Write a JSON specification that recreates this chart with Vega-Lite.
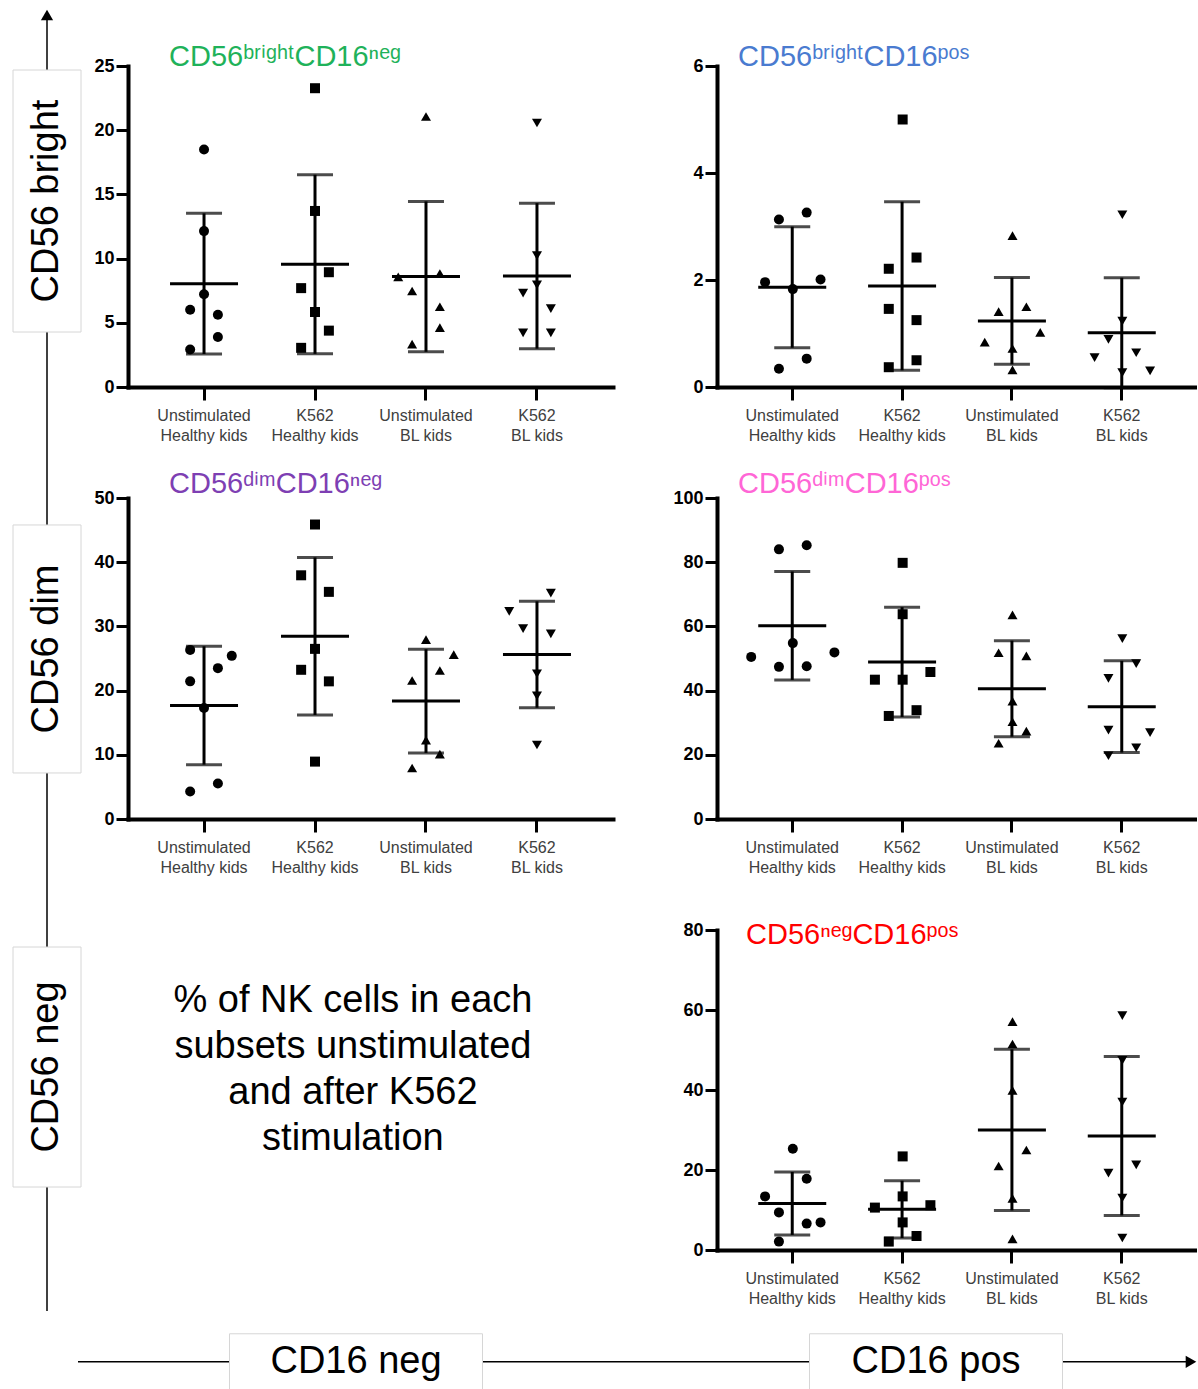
{
  "$schema": "https://vega.github.io/schema/vega-lite/v6.json",
  "padding": {"left": 12, "top": 9, "right": 0, "bottom": 0},
  "background": "white",
  "config": {
    "view": {"stroke": null},
    "font": "Liberation Sans",
    "axisY": {"domainColor": "black", "domainWidth": 4, "domainCap": "square", "tickColor": "black", "tickWidth": 3, "tickSize": 12, "labelFontSize": 18, "labelFontWeight": "bold", "labelColor": "black", "labelPadding": 2, "grid": false, "labelFont": "Liberation Sans", "format": "d"},
    "axisX": {"domainColor": "black", "domainWidth": 4, "domainCap": "square", "tickColor": "black", "tickWidth": 3, "tickSize": 13, "labelFontSize": 16, "labelColor": "#404040", "labelPadding": 7, "labelAngle": 0, "labelLineHeight": 20, "labelBaseline": "top", "grid": false, "labelFont": "Liberation Sans",
      "labelExpr": "[slice(datum.label, 0, indexof(datum.label, ' ')), slice(datum.label, indexof(datum.label, ' ') + 1)]"}
  },
  "datasets": {
    "nk": [
      {"p": "p1", "group": "Unstimulated Healthy kids", "slot": 0, "v": 18.49},
      {"p": "p1", "group": "Unstimulated Healthy kids", "slot": 0, "v": 12.14},
      {"p": "p1", "group": "Unstimulated Healthy kids", "slot": 0, "v": 7.23},
      {"p": "p1", "group": "Unstimulated Healthy kids", "slot": -1, "v": 6.02},
      {"p": "p1", "group": "Unstimulated Healthy kids", "slot": 1, "v": 5.63},
      {"p": "p1", "group": "Unstimulated Healthy kids", "slot": 1, "v": 3.9},
      {"p": "p1", "group": "Unstimulated Healthy kids", "slot": -1, "v": 2.92},
      {"p": "p1", "group": "K562 Healthy kids", "slot": 0, "v": 23.27},
      {"p": "p1", "group": "K562 Healthy kids", "slot": 0, "v": 13.71},
      {"p": "p1", "group": "K562 Healthy kids", "slot": 1, "v": 8.94},
      {"p": "p1", "group": "K562 Healthy kids", "slot": -1, "v": 7.7},
      {"p": "p1", "group": "K562 Healthy kids", "slot": 0, "v": 5.84},
      {"p": "p1", "group": "K562 Healthy kids", "slot": 1, "v": 4.39},
      {"p": "p1", "group": "K562 Healthy kids", "slot": -1, "v": 3.05},
      {"p": "p1", "group": "Unstimulated BL kids", "slot": 0, "v": 21.07},
      {"p": "p1", "group": "Unstimulated BL kids", "slot": -2, "v": 8.58},
      {"p": "p1", "group": "Unstimulated BL kids", "slot": 1, "v": 8.84},
      {"p": "p1", "group": "Unstimulated BL kids", "slot": -1, "v": 7.48},
      {"p": "p1", "group": "Unstimulated BL kids", "slot": 1, "v": 6.25},
      {"p": "p1", "group": "Unstimulated BL kids", "slot": 1, "v": 4.63},
      {"p": "p1", "group": "Unstimulated BL kids", "slot": -1, "v": 3.34},
      {"p": "p1", "group": "K562 BL kids", "slot": 0, "v": 20.56},
      {"p": "p1", "group": "K562 BL kids", "slot": 0, "v": 10.23},
      {"p": "p1", "group": "K562 BL kids", "slot": 0, "v": 7.95},
      {"p": "p1", "group": "K562 BL kids", "slot": -1, "v": 7.31},
      {"p": "p1", "group": "K562 BL kids", "slot": 1, "v": 6.1},
      {"p": "p1", "group": "K562 BL kids", "slot": -1, "v": 4.21},
      {"p": "p1", "group": "K562 BL kids", "slot": 1, "v": 4.21},

      {"p": "p2", "group": "Unstimulated Healthy kids", "slot": 1, "v": 3.26},
      {"p": "p2", "group": "Unstimulated Healthy kids", "slot": -1, "v": 3.13},
      {"p": "p2", "group": "Unstimulated Healthy kids", "slot": -2, "v": 1.96},
      {"p": "p2", "group": "Unstimulated Healthy kids", "slot": 2, "v": 2.01},
      {"p": "p2", "group": "Unstimulated Healthy kids", "slot": 0, "v": 1.83},
      {"p": "p2", "group": "Unstimulated Healthy kids", "slot": 1, "v": 0.53},
      {"p": "p2", "group": "Unstimulated Healthy kids", "slot": -1, "v": 0.34},
      {"p": "p2", "group": "K562 Healthy kids", "slot": 0, "v": 5.0},
      {"p": "p2", "group": "K562 Healthy kids", "slot": 1, "v": 2.42},
      {"p": "p2", "group": "K562 Healthy kids", "slot": -1, "v": 2.21},
      {"p": "p2", "group": "K562 Healthy kids", "slot": -1, "v": 1.46},
      {"p": "p2", "group": "K562 Healthy kids", "slot": 1, "v": 1.25},
      {"p": "p2", "group": "K562 Healthy kids", "slot": 1, "v": 0.5},
      {"p": "p2", "group": "K562 Healthy kids", "slot": -1, "v": 0.37},
      {"p": "p2", "group": "Unstimulated BL kids", "slot": 0, "v": 2.83},
      {"p": "p2", "group": "Unstimulated BL kids", "slot": -1, "v": 1.41},
      {"p": "p2", "group": "Unstimulated BL kids", "slot": 1, "v": 1.5},
      {"p": "p2", "group": "Unstimulated BL kids", "slot": 2, "v": 1.02},
      {"p": "p2", "group": "Unstimulated BL kids", "slot": -2, "v": 0.84},
      {"p": "p2", "group": "Unstimulated BL kids", "slot": 0, "v": 0.72},
      {"p": "p2", "group": "Unstimulated BL kids", "slot": 0, "v": 0.32},
      {"p": "p2", "group": "K562 BL kids", "slot": 0, "v": 3.22},
      {"p": "p2", "group": "K562 BL kids", "slot": 0, "v": 1.23},
      {"p": "p2", "group": "K562 BL kids", "slot": -1, "v": 0.89},
      {"p": "p2", "group": "K562 BL kids", "slot": 1, "v": 0.64},
      {"p": "p2", "group": "K562 BL kids", "slot": -2, "v": 0.55},
      {"p": "p2", "group": "K562 BL kids", "slot": 0, "v": 0.27},
      {"p": "p2", "group": "K562 BL kids", "slot": 2, "v": 0.3},

      {"p": "p3", "group": "Unstimulated Healthy kids", "slot": -1, "v": 26.34},
      {"p": "p3", "group": "Unstimulated Healthy kids", "slot": 2, "v": 25.41},
      {"p": "p3", "group": "Unstimulated Healthy kids", "slot": 1, "v": 23.5},
      {"p": "p3", "group": "Unstimulated Healthy kids", "slot": -1, "v": 21.44},
      {"p": "p3", "group": "Unstimulated Healthy kids", "slot": 0, "v": 17.3},
      {"p": "p3", "group": "Unstimulated Healthy kids", "slot": 1, "v": 5.53},
      {"p": "p3", "group": "Unstimulated Healthy kids", "slot": -1, "v": 4.29},
      {"p": "p3", "group": "K562 Healthy kids", "slot": 0, "v": 45.87},
      {"p": "p3", "group": "K562 Healthy kids", "slot": -1, "v": 37.96},
      {"p": "p3", "group": "K562 Healthy kids", "slot": 1, "v": 35.38},
      {"p": "p3", "group": "K562 Healthy kids", "slot": 0, "v": 26.5},
      {"p": "p3", "group": "K562 Healthy kids", "slot": -1, "v": 23.24},
      {"p": "p3", "group": "K562 Healthy kids", "slot": 1, "v": 21.44},
      {"p": "p3", "group": "K562 Healthy kids", "slot": 0, "v": 8.94},
      {"p": "p3", "group": "Unstimulated BL kids", "slot": 0, "v": 27.93},
      {"p": "p3", "group": "Unstimulated BL kids", "slot": 2, "v": 25.61},
      {"p": "p3", "group": "Unstimulated BL kids", "slot": 1, "v": 23.13},
      {"p": "p3", "group": "Unstimulated BL kids", "slot": -1, "v": 21.58},
      {"p": "p3", "group": "Unstimulated BL kids", "slot": 0, "v": 12.28},
      {"p": "p3", "group": "Unstimulated BL kids", "slot": 1, "v": 10.11},
      {"p": "p3", "group": "Unstimulated BL kids", "slot": -1, "v": 7.94},
      {"p": "p3", "group": "K562 BL kids", "slot": 1, "v": 35.18},
      {"p": "p3", "group": "K562 BL kids", "slot": -2, "v": 32.34},
      {"p": "p3", "group": "K562 BL kids", "slot": -1, "v": 29.66},
      {"p": "p3", "group": "K562 BL kids", "slot": 1, "v": 28.83},
      {"p": "p3", "group": "K562 BL kids", "slot": 0, "v": 22.63},
      {"p": "p3", "group": "K562 BL kids", "slot": 0, "v": 19.17},
      {"p": "p3", "group": "K562 BL kids", "slot": 0, "v": 11.53},

      {"p": "p4", "group": "Unstimulated Healthy kids", "slot": 1, "v": 85.3},
      {"p": "p4", "group": "Unstimulated Healthy kids", "slot": -1, "v": 84.0},
      {"p": "p4", "group": "Unstimulated Healthy kids", "slot": 0, "v": 54.8},
      {"p": "p4", "group": "Unstimulated Healthy kids", "slot": 3, "v": 51.9},
      {"p": "p4", "group": "Unstimulated Healthy kids", "slot": -3, "v": 50.5},
      {"p": "p4", "group": "Unstimulated Healthy kids", "slot": -1, "v": 47.4},
      {"p": "p4", "group": "Unstimulated Healthy kids", "slot": 1, "v": 47.6},
      {"p": "p4", "group": "K562 Healthy kids", "slot": 0, "v": 79.8},
      {"p": "p4", "group": "K562 Healthy kids", "slot": 0, "v": 63.8},
      {"p": "p4", "group": "K562 Healthy kids", "slot": 2, "v": 45.8},
      {"p": "p4", "group": "K562 Healthy kids", "slot": -2, "v": 43.4},
      {"p": "p4", "group": "K562 Healthy kids", "slot": 0, "v": 43.4},
      {"p": "p4", "group": "K562 Healthy kids", "slot": 1, "v": 33.9},
      {"p": "p4", "group": "K562 Healthy kids", "slot": -1, "v": 32.1},
      {"p": "p4", "group": "Unstimulated BL kids", "slot": 0, "v": 63.6},
      {"p": "p4", "group": "Unstimulated BL kids", "slot": -1, "v": 51.8},
      {"p": "p4", "group": "Unstimulated BL kids", "slot": 1, "v": 50.8},
      {"p": "p4", "group": "Unstimulated BL kids", "slot": 0, "v": 36.7},
      {"p": "p4", "group": "Unstimulated BL kids", "slot": 0, "v": 30.3},
      {"p": "p4", "group": "Unstimulated BL kids", "slot": 1, "v": 27.4},
      {"p": "p4", "group": "Unstimulated BL kids", "slot": -1, "v": 23.6},
      {"p": "p4", "group": "K562 BL kids", "slot": 0, "v": 56.2},
      {"p": "p4", "group": "K562 BL kids", "slot": 1, "v": 48.4},
      {"p": "p4", "group": "K562 BL kids", "slot": -1, "v": 43.8},
      {"p": "p4", "group": "K562 BL kids", "slot": -1, "v": 27.7},
      {"p": "p4", "group": "K562 BL kids", "slot": 2, "v": 26.9},
      {"p": "p4", "group": "K562 BL kids", "slot": 1, "v": 22.2},
      {"p": "p4", "group": "K562 BL kids", "slot": -1, "v": 19.7},

      {"p": "p5", "group": "Unstimulated Healthy kids", "slot": 0, "v": 25.3},
      {"p": "p5", "group": "Unstimulated Healthy kids", "slot": 1, "v": 17.8},
      {"p": "p5", "group": "Unstimulated Healthy kids", "slot": -2, "v": 13.4},
      {"p": "p5", "group": "Unstimulated Healthy kids", "slot": -1, "v": 9.4},
      {"p": "p5", "group": "Unstimulated Healthy kids", "slot": 2, "v": 6.9},
      {"p": "p5", "group": "Unstimulated Healthy kids", "slot": 1, "v": 6.6},
      {"p": "p5", "group": "Unstimulated Healthy kids", "slot": -1, "v": 2.1},
      {"p": "p5", "group": "K562 Healthy kids", "slot": 0, "v": 23.4},
      {"p": "p5", "group": "K562 Healthy kids", "slot": 0, "v": 13.4},
      {"p": "p5", "group": "K562 Healthy kids", "slot": -2, "v": 10.6},
      {"p": "p5", "group": "K562 Healthy kids", "slot": 2, "v": 11.2},
      {"p": "p5", "group": "K562 Healthy kids", "slot": 0, "v": 6.9},
      {"p": "p5", "group": "K562 Healthy kids", "slot": 1, "v": 3.5},
      {"p": "p5", "group": "K562 Healthy kids", "slot": -1, "v": 2.1},
      {"p": "p5", "group": "Unstimulated BL kids", "slot": 0, "v": 57.1},
      {"p": "p5", "group": "Unstimulated BL kids", "slot": 0, "v": 51.5},
      {"p": "p5", "group": "Unstimulated BL kids", "slot": 0, "v": 39.9},
      {"p": "p5", "group": "Unstimulated BL kids", "slot": 1, "v": 25.0},
      {"p": "p5", "group": "Unstimulated BL kids", "slot": -1, "v": 21.0},
      {"p": "p5", "group": "Unstimulated BL kids", "slot": 0, "v": 12.9},
      {"p": "p5", "group": "Unstimulated BL kids", "slot": 0, "v": 2.8},
      {"p": "p5", "group": "K562 BL kids", "slot": 0, "v": 58.6},
      {"p": "p5", "group": "K562 BL kids", "slot": 0, "v": 47.4},
      {"p": "p5", "group": "K562 BL kids", "slot": 0, "v": 37.0},
      {"p": "p5", "group": "K562 BL kids", "slot": 1, "v": 21.3},
      {"p": "p5", "group": "K562 BL kids", "slot": -1, "v": 19.2},
      {"p": "p5", "group": "K562 BL kids", "slot": 0, "v": 13.0},
      {"p": "p5", "group": "K562 BL kids", "slot": 0, "v": 3.0}
    ]
  },
  "spacing": 0,
  "vconcat": [
    {
      "bounds": "flush",
      "columns": 3,
      "align": {"row": "each", "column": "each"},
      "spacing": {"row": 0, "column": 47},
      "concat": [
        {
          "width": 68, "height": 51,
          "data": {"values": [{"e": "top"}]},
          "encoding": {"x": {"datum": "c", "type": "nominal", "scale": {"type": "point"}, "axis": null}},
          "layer": [
            {"mark": {"type": "rule", "color": "black", "strokeWidth": 1.5}, "encoding": {}},
            {"mark": {"type": "point", "shape": "triangle-up", "filled": true, "color": "black", "opacity": 1, "size": 150},
             "encoding": {"y": {"field": "e", "type": "nominal", "scale": {"type": "point", "domain": ["top", "bottom"], "padding": 0}, "axis": null}}}
          ]
        },
        {"width": 1, "height": 1, "data": {"values": [{}]}, "mark": {"type": "point", "opacity": 0}, "encoding": {}},
        {"width": 1, "height": 1, "data": {"values": [{}]}, "mark": {"type": "point", "opacity": 0}, "encoding": {}},

        {
          "width": 68, "height": 432,
          "data": {"values": [{"lab": "CD56 bright"}]},
          "encoding": {
            "x": {"datum": "c", "type": "nominal", "scale": {"type": "point"}, "axis": null},
            "y": {"field": "lab", "type": "nominal", "scale": {"type": "point", "align": 0.3125}, "axis": null}
          },
          "layer": [
            {"mark": {"type": "rule", "color": "black", "strokeWidth": 1.5}, "encoding": {"y": null}},
            {"mark": {"type": "rect", "width": 68, "height": 262, "fill": "white", "stroke": "#d6d6d6", "strokeWidth": 1}},
            {"mark": {"type": "text", "angle": 270, "fontSize": 38, "font": "Liberation Sans", "color": "black", "align": "center", "baseline": "middle"}, "encoding": {"text": {"field": "lab"}}}
          ]
        },
        {
          "width": 542, "height": 321,
          "title": {"text": "CD56ᵇʳⁱᵍʰᵗCD16ⁿᵉᵍ", "color": "#1fb25a", "anchor": "start", "frame": "group", "dx": 41, "fontSize": 29, "fontWeight": "normal", "font": "Liberation Sans", "baseline": "alphabetic", "offset": -38},
          "data": {"name": "nk"},
          "transform": [{"filter": "datum.p === 'p1'"}],
          "encoding": {"x": {"field": "group", "type": "nominal", "title": null, "scale": {"domain": ["Unstimulated Healthy kids", "K562 Healthy kids", "Unstimulated BL kids", "K562 BL kids"], "range": [0, 485], "paddingInner": 0, "paddingOuter": 0.185}}},
          "layer": [
            {"mark": {"type": "errorbar", "extent": "stdev", "color": "black", "ticks": {"size": 36, "thickness": 3, "color": "black"}, "rule": {"strokeWidth": 3, "color": "black"}},
             "encoding": {"y": {"field": "v", "type": "quantitative", "title": null, "scale": {"domain": [0, 25], "nice": false}, "axis": {"values": [0, 5, 10, 15, 20, 25]}}}},
            {"mark": {"type": "tick", "size": 68, "thickness": 3, "color": "black"},
             "encoding": {"y": {"aggregate": "mean", "field": "v", "type": "quantitative", "title": null}}},
            {"mark": {"type": "point", "filled": true, "color": "black", "opacity": 1},
             "encoding": {"y": {"field": "v", "type": "quantitative", "title": null},
               "xOffset": {"field": "slot", "type": "ordinal", "scale": {"type": "point", "domain": [-3, -2, -1, 0, 1, 2, 3], "padding": 2.95}},
               "size": {"field": "group", "type": "nominal", "legend": null, "scale": {"domain": ["Unstimulated Healthy kids", "K562 Healthy kids", "Unstimulated BL kids", "K562 BL kids"], "range": [100, 100, 160, 160]}},
               "shape": {"field": "group", "type": "nominal", "legend": null, "scale": {"domain": ["Unstimulated Healthy kids", "K562 Healthy kids", "Unstimulated BL kids", "K562 BL kids"], "range": ["circle", "square", "triangle-up", "triangle-down"]}}}}
          ]
        },
        {
          "width": 480, "height": 321,
          "title": {"text": "CD56ᵇʳⁱᵍʰᵗCD16ᵖᵒˢ", "color": "#4a7bd0", "anchor": "start", "frame": "group", "dx": 21, "fontSize": 29, "fontWeight": "normal", "font": "Liberation Sans", "baseline": "alphabetic", "offset": -38},
          "data": {"name": "nk"},
          "transform": [{"filter": "datum.p === 'p2'"}],
          "encoding": {"x": {"field": "group", "type": "nominal", "title": null, "scale": {"domain": ["Unstimulated Healthy kids", "K562 Healthy kids", "Unstimulated BL kids", "K562 BL kids"], "paddingInner": 0, "paddingOuter": 0.185}}},
          "layer": [
            {"mark": {"type": "errorbar", "extent": "stdev", "color": "black", "ticks": {"size": 36, "thickness": 3, "color": "black"}, "rule": {"strokeWidth": 3, "color": "black"}},
             "encoding": {"y": {"field": "v", "type": "quantitative", "title": null, "scale": {"domain": [0, 6], "nice": false}, "axis": {"values": [0, 2, 4, 6]}}}},
            {"mark": {"type": "tick", "size": 68, "thickness": 3, "color": "black"},
             "encoding": {"y": {"aggregate": "mean", "field": "v", "type": "quantitative", "title": null}}},
            {"mark": {"type": "point", "filled": true, "color": "black", "opacity": 1},
             "encoding": {"y": {"field": "v", "type": "quantitative", "title": null},
               "xOffset": {"field": "slot", "type": "ordinal", "scale": {"type": "point", "domain": [-3, -2, -1, 0, 1, 2, 3], "padding": 2.95}},
               "size": {"field": "group", "type": "nominal", "legend": null, "scale": {"domain": ["Unstimulated Healthy kids", "K562 Healthy kids", "Unstimulated BL kids", "K562 BL kids"], "range": [100, 100, 160, 160]}},
               "shape": {"field": "group", "type": "nominal", "legend": null, "scale": {"domain": ["Unstimulated Healthy kids", "K562 Healthy kids", "Unstimulated BL kids", "K562 BL kids"], "range": ["circle", "square", "triangle-up", "triangle-down"]}}}}
          ]
        },

        {
          "width": 68, "height": 432,
          "data": {"values": [{"lab": "CD56 dim"}]},
          "encoding": {
            "x": {"datum": "c", "type": "nominal", "scale": {"type": "point"}, "axis": null},
            "y": {"field": "lab", "type": "nominal", "scale": {"type": "point", "align": 0.3495}, "axis": null}
          },
          "layer": [
            {"mark": {"type": "rule", "color": "black", "strokeWidth": 1.5}, "encoding": {"y": null}},
            {"mark": {"type": "rect", "width": 68, "height": 248, "fill": "white", "stroke": "#d6d6d6", "strokeWidth": 1}},
            {"mark": {"type": "text", "angle": 270, "fontSize": 38, "font": "Liberation Sans", "color": "black", "align": "center", "baseline": "middle"}, "encoding": {"text": {"field": "lab"}}}
          ]
        },
        {
          "width": 542, "height": 321,
          "title": {"text": "CD56ᵈⁱᵐCD16ⁿᵉᵍ", "color": "#7e3fb3", "anchor": "start", "frame": "group", "dx": 41, "fontSize": 29, "fontWeight": "normal", "font": "Liberation Sans", "baseline": "alphabetic", "offset": -33},
          "data": {"name": "nk"},
          "transform": [{"filter": "datum.p === 'p3'"}],
          "encoding": {"x": {"field": "group", "type": "nominal", "title": null, "scale": {"domain": ["Unstimulated Healthy kids", "K562 Healthy kids", "Unstimulated BL kids", "K562 BL kids"], "range": [0, 485], "paddingInner": 0, "paddingOuter": 0.185}}},
          "layer": [
            {"mark": {"type": "errorbar", "extent": "stdev", "color": "black", "ticks": {"size": 36, "thickness": 3, "color": "black"}, "rule": {"strokeWidth": 3, "color": "black"}},
             "encoding": {"y": {"field": "v", "type": "quantitative", "title": null, "scale": {"domain": [0, 50], "nice": false}, "axis": {"values": [0, 10, 20, 30, 40, 50]}}}},
            {"mark": {"type": "tick", "size": 68, "thickness": 3, "color": "black"},
             "encoding": {"y": {"aggregate": "mean", "field": "v", "type": "quantitative", "title": null}}},
            {"mark": {"type": "point", "filled": true, "color": "black", "opacity": 1},
             "encoding": {"y": {"field": "v", "type": "quantitative", "title": null},
               "xOffset": {"field": "slot", "type": "ordinal", "scale": {"type": "point", "domain": [-3, -2, -1, 0, 1, 2, 3], "padding": 2.95}},
               "size": {"field": "group", "type": "nominal", "legend": null, "scale": {"domain": ["Unstimulated Healthy kids", "K562 Healthy kids", "Unstimulated BL kids", "K562 BL kids"], "range": [100, 100, 160, 160]}},
               "shape": {"field": "group", "type": "nominal", "legend": null, "scale": {"domain": ["Unstimulated Healthy kids", "K562 Healthy kids", "Unstimulated BL kids", "K562 BL kids"], "range": ["circle", "square", "triangle-up", "triangle-down"]}}}}
          ]
        },
        {
          "width": 480, "height": 321,
          "title": {"text": "CD56ᵈⁱᵐCD16ᵖᵒˢ", "color": "#ff66d6", "anchor": "start", "frame": "group", "dx": 21, "fontSize": 29, "fontWeight": "normal", "font": "Liberation Sans", "baseline": "alphabetic", "offset": -33},
          "data": {"name": "nk"},
          "transform": [{"filter": "datum.p === 'p4'"}],
          "encoding": {"x": {"field": "group", "type": "nominal", "title": null, "scale": {"domain": ["Unstimulated Healthy kids", "K562 Healthy kids", "Unstimulated BL kids", "K562 BL kids"], "paddingInner": 0, "paddingOuter": 0.185}}},
          "layer": [
            {"mark": {"type": "errorbar", "extent": "stdev", "color": "black", "ticks": {"size": 36, "thickness": 3, "color": "black"}, "rule": {"strokeWidth": 3, "color": "black"}},
             "encoding": {"y": {"field": "v", "type": "quantitative", "title": null, "scale": {"domain": [0, 100], "nice": false}, "axis": {"values": [0, 20, 40, 60, 80, 100]}}}},
            {"mark": {"type": "tick", "size": 68, "thickness": 3, "color": "black"},
             "encoding": {"y": {"aggregate": "mean", "field": "v", "type": "quantitative", "title": null}}},
            {"mark": {"type": "point", "filled": true, "color": "black", "opacity": 1},
             "encoding": {"y": {"field": "v", "type": "quantitative", "title": null},
               "xOffset": {"field": "slot", "type": "ordinal", "scale": {"type": "point", "domain": [-3, -2, -1, 0, 1, 2, 3], "padding": 2.95}},
               "size": {"field": "group", "type": "nominal", "legend": null, "scale": {"domain": ["Unstimulated Healthy kids", "K562 Healthy kids", "Unstimulated BL kids", "K562 BL kids"], "range": [100, 100, 160, 160]}},
               "shape": {"field": "group", "type": "nominal", "legend": null, "scale": {"domain": ["Unstimulated Healthy kids", "K562 Healthy kids", "Unstimulated BL kids", "K562 BL kids"], "range": ["circle", "square", "triangle-up", "triangle-down"]}}}}
          ]
        },

        {
          "width": 68, "height": 381,
          "data": {"values": [{"lab": "CD56 neg"}]},
          "encoding": {
            "x": {"datum": "c", "type": "nominal", "scale": {"type": "point"}, "axis": null},
            "y": {"field": "lab", "type": "nominal", "scale": {"type": "point", "align": 0.3596}, "axis": null}
          },
          "layer": [
            {"mark": {"type": "rule", "color": "black", "strokeWidth": 1.5}, "encoding": {"y": null}},
            {"mark": {"type": "rect", "width": 68, "height": 240, "fill": "white", "stroke": "#d6d6d6", "strokeWidth": 1}},
            {"mark": {"type": "text", "angle": 270, "fontSize": 38, "font": "Liberation Sans", "color": "black", "align": "center", "baseline": "middle"}, "encoding": {"text": {"field": "lab"}}}
          ]
        },
        {
          "width": 542, "height": 280,
          "data": {"values": [{"t": "% of NK cells in each\nsubsets unstimulated\nand after K562\nstimulation"}]},
          "mark": {"type": "text", "lineBreak": "\n", "fontSize": 38, "lineHeight": 46, "font": "Liberation Sans", "color": "black", "align": "center", "baseline": "middle"},
          "encoding": {
            "x": {"datum": "c", "type": "nominal", "scale": {"type": "point", "align": 0.415}, "axis": null},
            "y": {"datum": "c", "type": "nominal", "scale": {"type": "point", "align": 0.254}, "axis": null},
            "text": {"field": "t"}
          }
        },
        {
          "width": 480, "height": 320,
          "title": {"text": "CD56ⁿᵉᵍCD16ᵖᵒˢ", "color": "#ff0000", "anchor": "start", "frame": "group", "dx": 29, "fontSize": 29, "fontWeight": "normal", "font": "Liberation Sans", "baseline": "alphabetic", "offset": -52},
          "data": {"name": "nk"},
          "transform": [{"filter": "datum.p === 'p5'"}],
          "encoding": {"x": {"field": "group", "type": "nominal", "title": null, "scale": {"domain": ["Unstimulated Healthy kids", "K562 Healthy kids", "Unstimulated BL kids", "K562 BL kids"], "paddingInner": 0, "paddingOuter": 0.185}}},
          "layer": [
            {"mark": {"type": "errorbar", "extent": "stdev", "color": "black", "ticks": {"size": 36, "thickness": 3, "color": "black"}, "rule": {"strokeWidth": 3, "color": "black"}},
             "encoding": {"y": {"field": "v", "type": "quantitative", "title": null, "scale": {"domain": [0, 80], "nice": false}, "axis": {"values": [0, 20, 40, 60, 80]}}}},
            {"mark": {"type": "tick", "size": 68, "thickness": 3, "color": "black"},
             "encoding": {"y": {"aggregate": "mean", "field": "v", "type": "quantitative", "title": null}}},
            {"mark": {"type": "point", "filled": true, "color": "black", "opacity": 1},
             "encoding": {"y": {"field": "v", "type": "quantitative", "title": null},
               "xOffset": {"field": "slot", "type": "ordinal", "scale": {"type": "point", "domain": [-3, -2, -1, 0, 1, 2, 3], "padding": 2.95}},
               "size": {"field": "group", "type": "nominal", "legend": null, "scale": {"domain": ["Unstimulated Healthy kids", "K562 Healthy kids", "Unstimulated BL kids", "K562 BL kids"], "range": [100, 100, 160, 160]}},
               "shape": {"field": "group", "type": "nominal", "legend": null, "scale": {"domain": ["Unstimulated Healthy kids", "K562 Healthy kids", "Unstimulated BL kids", "K562 BL kids"], "range": ["circle", "square", "triangle-up", "triangle-down"]}}}}
          ]
        }
      ]
    },
    {
      "width": 1178, "height": 79,
      "resolve": {"scale": {"x": "independent"}},
      "encoding": {"y": {"datum": "m", "type": "nominal", "scale": {"type": "point", "align": 0.63}, "axis": null}},
      "layer": [
        {"data": {"values": [{"k": 1}]},
         "mark": {"type": "rule", "color": "black", "strokeWidth": 1.5},
         "encoding": {"x": {"datum": "a", "type": "nominal", "scale": {"type": "point", "domain": ["a", "b"], "padding": 0.0292, "align": 1}, "axis": null}, "x2": {"datum": "b"}}},
        {"data": {"values": [{"k": 1}]},
         "mark": {"type": "point", "shape": "triangle-right", "filled": true, "color": "black", "opacity": 1, "size": 150},
         "encoding": {"x": {"datum": "b", "type": "nominal", "scale": {"type": "point", "domain": ["a", "b"], "padding": 0.0292, "align": 1}, "axis": null}}},
        {"data": {"values": [{"lab": "CD16 neg"}, {"lab": "CD16 pos"}]},
         "mark": {"type": "rect", "width": 253, "height": 56, "fill": "white", "stroke": "#d6d6d6", "strokeWidth": 1},
         "encoding": {"x": {"field": "lab", "type": "nominal", "sort": null, "scale": {"type": "point", "domain": ["CD16 neg", "CD16 pos"], "padding": 0.5155, "align": 0.5736}, "axis": null}}},
        {"data": {"values": [{"lab": "CD16 neg"}, {"lab": "CD16 pos"}]},
         "mark": {"type": "text", "fontSize": 38, "font": "Liberation Sans", "color": "black", "align": "center", "baseline": "middle"},
         "encoding": {"x": {"field": "lab", "type": "nominal", "sort": null, "scale": {"type": "point", "domain": ["CD16 neg", "CD16 pos"], "padding": 0.5155, "align": 0.5736}, "axis": null}, "text": {"field": "lab"}}}
      ]
    }
  ]
}
